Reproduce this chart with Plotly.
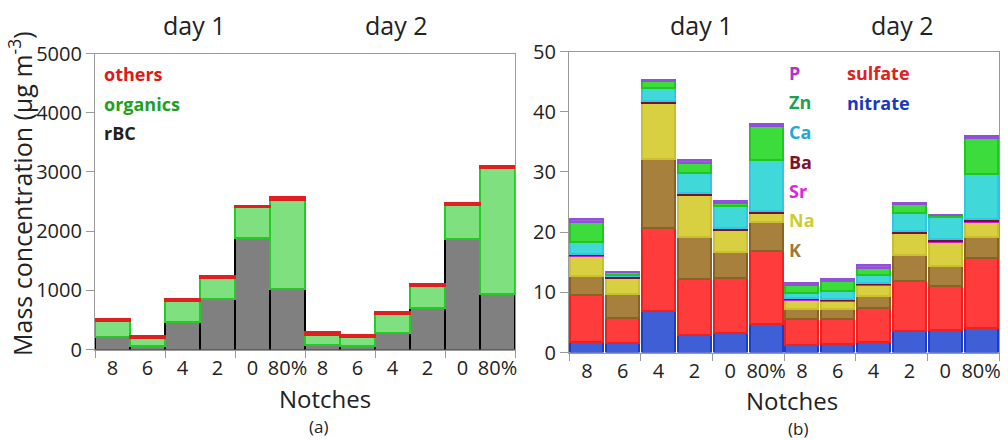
import plotly.graph_objects as go

# ---------------- data ----------------
notch_labels = ["8", "6", "4", "2", "0", "80%", "8", "6", "4", "2", "0", "80%"]
positions = list(range(12))

# panel (a): mass concentration (ug m-3)
rbc = [215, 75, 480, 860, 1895, 1035, 90, 65, 290, 705, 1875, 945]
organics = [270, 125, 345, 355, 515, 1505, 165, 150, 310, 370, 580, 2130]
others = [40, 45, 40, 35, 30, 40, 45, 40, 35, 35, 35, 35]

# panel (b): inorganic species (ug m-3)
nitrate = [1.8, 1.7, 6.9, 3.0, 3.3, 4.9, 1.4, 1.5, 1.9, 3.7, 3.8, 4.1]
sulfate = [7.9, 4.1, 13.9, 9.3, 9.2, 12.1, 4.2, 4.1, 5.6, 8.3, 7.4, 11.6]
K = [3.1, 4.0, 11.4, 7.0, 4.2, 4.7, 1.7, 1.7, 2.0, 4.3, 3.3, 3.5]
Na = [3.3, 2.6, 9.3, 6.9, 3.7, 1.5, 1.5, 1.4, 1.8, 3.6, 4.0, 2.6]
Sr = [0.1, 0.1, 0.1, 0.1, 0.1, 0.1, 0.1, 0.1, 0.1, 0.1, 0.1, 0.1]
Ba = [0.3, 0.3, 0.3, 0.2, 0.3, 0.3, 0.2, 0.1, 0.2, 0.2, 0.3, 0.3]
Ca = [2.0, 0.1, 2.1, 3.4, 3.6, 8.4, 0.8, 1.4, 1.4, 3.1, 3.7, 7.6]
Zn = [3.3, 0.5, 1.2, 1.7, 0.6, 5.7, 1.4, 1.7, 1.2, 1.4, 0.3, 5.9]
P = [0.4, 0.1, 0.2, 0.4, 0.2, 0.4, 0.4, 0.3, 0.4, 0.3, 0.1, 0.4]

FONT = "Open Sans"

fig = go.Figure()

# ---- panel (a) ----
for name, vals, fill, line in [
    ("rBC", rbc, "#808080", "#000000"),
    ("organics", organics, "#7EE07E", "#22CC22"),
    ("others", others, "#E02020", "#E02020"),
]:
    fig.add_trace(go.Bar(x=positions, y=vals, name=name, width=1.0,
                         marker=dict(color=fill, line=dict(color=line, width=2)),
                         xaxis="x", yaxis="y", showlegend=False))

# ---- panel (b) ----
for name, vals, fill, line in [
    ("nitrate", nitrate, "#3F5FD6", "#1E3CC8"),
    ("sulfate", sulfate, "#FF3C3C", "#F02020"),
    ("K", K, "#A8803E", "#8A6224"),
    ("Na", Na, "#D8D040", "#C8C030"),
    ("Sr", Sr, "#E030E0", "#D020D0"),
    ("Ba", Ba, "#8A1A3A", "#7A1030"),
    ("Ca", Ca, "#40D8D8", "#30C8E0"),
    ("Zn", Zn, "#3CDC3C", "#1EC81E"),
    ("P", P, "#A060E0", "#9050D8"),
]:
    fig.add_trace(go.Bar(x=positions, y=vals, name=name, width=0.92,
                         marker=dict(color=fill, line=dict(color=line, width=2)),
                         xaxis="x2", yaxis="y2", showlegend=False))

W, H = 1008, 440

def px_x(p):
    return p / W

def px_y(p):
    return 1 - p / H

axis_common = dict(showline=True, mirror=True, linecolor="#9A9A9A", linewidth=1.2,
                   showgrid=False, zeroline=False, automargin=False,
                   tickfont=dict(family=FONT, size=20, color="#222"))

xcommon = dict(axis_common, range=[-0.5, 11.5], tickmode="array",
               tickvals=positions, ticktext=notch_labels, ticks="",
               minor=dict(tickmode="array", tickvals=[-0.5, 1.5, 3.5, 5.5, 7.5, 9.5, 11.5],
                          ticks="outside", ticklen=7, tickcolor="#9A9A9A", tickwidth=1.2))

fig.update_layout(
    width=W, height=H,
    margin=dict(l=0, r=0, t=0, b=0, autoexpand=False),
    paper_bgcolor="white", plot_bgcolor="white",
    barmode="stack", bargap=0,
    font=dict(family=FONT, color="#222"),
    xaxis=dict(xcommon, domain=[px_x(95), px_x(515)], anchor="y"),
    yaxis=dict(axis_common, domain=[px_y(349.5), px_y(53.5)], range=[0, 5000],
               tickvals=[0, 1000, 2000, 3000, 4000, 5000], ticks="outside",
               ticklen=8, tickcolor="#9A9A9A", anchor="x"),
    xaxis2=dict(xcommon, domain=[px_x(569), px_x(999)], anchor="y2"),
    yaxis2=dict(axis_common, domain=[px_y(352.5), px_y(51.5)], range=[0, 50],
                tickvals=[0, 10, 20, 30, 40, 50], ticks="outside",
                ticklen=8, tickcolor="#9A9A9A", anchor="x2"),
)

ann = []
def text(x, y, s, size, color="#222", bold=False, xanchor="center", angle=0):
    ann.append(dict(x=px_x(x), y=px_y(y), xref="paper", yref="paper", text=(f"<b>{s}</b>" if bold else s),
                    showarrow=False, xanchor=xanchor, yanchor="middle", textangle=angle,
                    font=dict(family=FONT, size=size, color=color)))

# titles
text(194, 25, "day 1", 25)
text(396, 25, "day 2", 25)
text(701, 25, "day 1", 25)
text(902, 25, "day 2", 25)
text(20, 194, "Mass concentration (μg m<sup>-3</sup>)", 25, angle=-90)
text(325, 398, "Notches", 24)
text(792, 400, "Notches", 24)
text(318, 426, "(a)", 17)
text(798, 428, "(b)", 17)

# panel (a) labels
text(102, 74, "others", 18, "#E01818", True, "left")
text(102, 104, "organics", 18, "#20A020", True, "left")
text(102, 133, "rBC", 18, "#202020", True, "left")

# panel (b) labels
for i, (s, c) in enumerate([("P", "#B030D0"), ("Zn", "#20A050"), ("Ca", "#20A8D8"),
                            ("Ba", "#801030"), ("Sr", "#E020E0"), ("Na", "#D0CC30"),
                            ("K", "#A07838")]):
    text(787, 73 + i * 29.5, s, 18, c, True, "left")
text(845, 73, "sulfate", 18, "#E02020", True, "left")
text(845, 103, "nitrate", 18, "#1838C0", True, "left")

fig.update_layout(annotations=ann)
fig.write_html("out.html", config={"displayModeBar": False},
               post_script="document.body.style.margin='0';document.body.style.overflow='hidden';")
